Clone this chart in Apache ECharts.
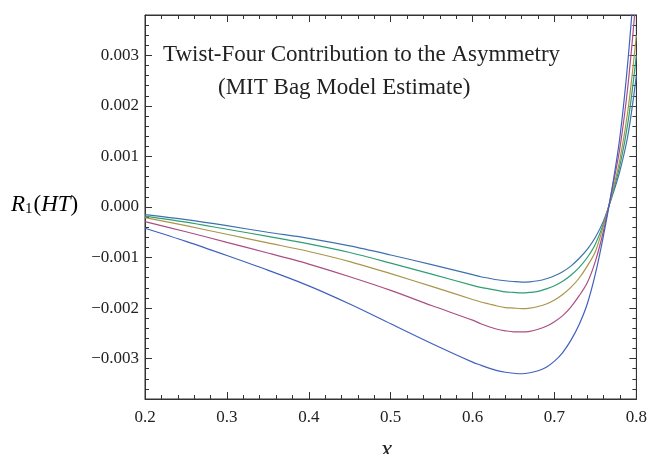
<!DOCTYPE html>
<html>
<head>
<meta charset="utf-8">
<script src="https://cdn.jsdelivr.net/npm/echarts@6/dist/echarts.min.js"></script>
<style>
  * { margin: 0; padding: 0; }
  html, body { background: #fff; }
</style>
</head>
<body>
<div id="chart" style="width: 650px;height: 454px;"></div>
<script>
  // x grid shared by all curves
  var xs = [0.2, 0.25, 0.3, 0.35, 0.4, 0.45, 0.5, 0.55,
            0.6, 0.61, 0.62, 0.63, 0.64, 0.65, 0.66, 0.67, 0.68, 0.69, 0.7,
            0.71, 0.72, 0.73, 0.74, 0.75, 0.76, 0.77, 0.78, 0.79, 0.8];
  // values in units of 1e-3
  var curveA = [-0.42, -0.68, -0.96, -1.25, -1.56, -1.92, -2.31, -2.70,
                -3.07, -3.13, -3.19, -3.24, -3.27, -3.29, -3.30, -3.28, -3.24, -3.17, -3.05,
                -2.88, -2.64, -2.33, -1.92, -1.32, -0.55, 0.34, 1.40, 2.95, 5.0];
  var curveB = [-0.29, -0.49, -0.70, -0.91, -1.13, -1.38, -1.65, -1.95,
                -2.24, -2.31, -2.37, -2.42, -2.45, -2.47, -2.47, -2.46, -2.42, -2.36, -2.27,
                -2.15, -1.98, -1.76, -1.50, -1.07, -0.46, 0.32, 1.18, 2.45, 4.2];
  var curveC = [-0.21, -0.37, -0.54, -0.71, -0.88, -1.08, -1.32, -1.57,
                -1.83, -1.88, -1.92, -1.96, -1.99, -2.00, -2.01, -2.00, -1.97, -1.92, -1.84,
                -1.73, -1.59, -1.41, -1.17, -0.88, -0.36, 0.25, 0.95, 1.95, 3.4];
  var curveD = [-0.18, -0.30, -0.44, -0.58, -0.73, -0.90, -1.11, -1.33,
                -1.55, -1.59, -1.62, -1.65, -1.68, -1.69, -1.70, -1.69, -1.67, -1.62, -1.56,
                -1.47, -1.35, -1.20, -1.00, -0.73, -0.32, 0.22, 0.83, 1.70, 3.0];
  var curveE = [-0.15, -0.25, -0.37, -0.50, -0.62, -0.77, -0.95, -1.14,
                -1.34, -1.38, -1.41, -1.44, -1.46, -1.475, -1.485, -1.48, -1.46, -1.42, -1.36,
                -1.28, -1.17, -1.02, -0.84, -0.60, -0.27, 0.19, 0.72, 1.45, 2.6];
  var curves = [curveA, curveB, curveC, curveD, curveE];
  var colors = ['#4160bd', '#aa4f83', '#a8964c', '#2f9e72', '#3d71ad'];
  var yMajor = [-0.003, -0.002, -0.001, 0, 0.001, 0.002, 0.003];

  var serif = 'Liberation Serif';
  var ink = '#333';

  function pairs(vals) {
    return xs.map(function (x, i) { return [x, vals[i] * 1e-3]; });
  }
  function yLabel(v) {
    return (v < 0 ? '\u2212' : '') + Math.abs(v).toFixed(3);
  }
  function xAxisOf(pos, labels) {
    return {
      type: 'value', position: pos, min: 0.2, max: 0.8, interval: 0.1,
      axisLine: { show: true, onZero: false, lineStyle: { color: ink, width: 1 } },
      axisTick: { inside: true, length: 7, lineStyle: { color: ink } },
      minorTick: { show: true, splitNumber: 5, length: 4, lineStyle: { color: ink } },
      splitLine: { show: false },
      axisLabel: {
        show: labels, margin: 10, color: '#222', fontFamily: serif, fontSize: 17,
        formatter: function (v) { return v.toFixed(1); }
      }
    };
  }
  function yMajorAxis(pos, labels) {
    return {
      type: 'value', position: pos, min: -0.0038, max: 0.0038,
      axisLine: { show: true, onZero: false, lineStyle: { color: ink, width: 1 } },
      axisTick: { inside: true, length: 7, customValues: yMajor, lineStyle: { color: ink } },
      splitLine: { show: false },
      axisLabel: {
        show: labels, customValues: yMajor, margin: 6, color: '#222',
        fontFamily: serif, fontSize: 17, formatter: yLabel
      }
    };
  }
  function yMinorAxis(pos) {
    return {
      type: 'value', position: pos, min: -0.0038, max: 0.0038, interval: 0.0002,
      axisLine: { show: false, onZero: false },
      axisTick: { inside: true, length: 4, lineStyle: { color: ink } },
      splitLine: { show: false },
      axisLabel: { show: false }
    };
  }

  var chart = echarts.init(document.getElementById('chart'));
  chart.setOption({
    animation: false,
    backgroundColor: '#fff',
    grid: { left: 145, right: 12, top: 15, bottom: 55, show: true, borderColor: ink, borderWidth: 1 },
    xAxis: [xAxisOf('bottom', true), xAxisOf('top', false)],
    yAxis: [yMajorAxis('left', true), yMinorAxis('left'), yMajorAxis('right', false), yMinorAxis('right')],
    series: curves.map(function (c, i) {
      return {
        type: 'line', xAxisIndex: 0, yAxisIndex: 0,
        data: pairs(c), smooth: 0.3, showSymbol: false, symbol: 'none',
        clip: true, z: 10 - i,
        lineStyle: { color: colors[i], width: 1.2 }
      };
    }),
    graphic: [
      {
        type: 'text', left: 163, top: 43,
        style: { text: 'Twist-Four Contribution to the Asymmetry', font: '23px "Liberation Serif"', fill: '#222' }
      },
      {
        type: 'text', left: 218, top: 76,
        style: { text: '(MIT Bag Model Estimate)', font: '23px "Liberation Serif"', fill: '#222' }
      },
      {
        type: 'text', left: 11, top: 193,
        style: {
          text: '{i|R}{s|1}{n|(}{i|HT}{n|)}',
          rich: {
            i: { fontFamily: serif, fontStyle: 'italic', fontSize: 23, color: '#222' },
            n: { fontFamily: serif, fontSize: 23, color: '#222' },
            s: { fontFamily: serif, fontSize: 15, color: '#222', padding: [9, 1, 0, 0] }
          }
        }
      },
      {
        type: 'text', left: 381, top: 438,
        style: { text: 'x', font: 'italic 25px "Liberation Serif"', fill: '#222' }
      }
    ]
  });
</script>
</body>
</html>
